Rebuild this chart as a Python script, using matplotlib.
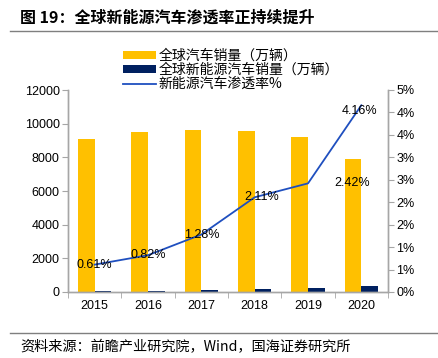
"""全球新能源汽车渗透率 chart"""

import matplotlib
matplotlib.use("Agg")
import matplotlib.pyplot as plt
from matplotlib.lines import Line2D
from matplotlib.ticker import FuncFormatter, FixedLocator
import numpy as np

years = ["2015", "2016", "2017", "2018", "2019", "2020"]
total_sales = [9068, 9490, 9624, 9582, 9190, 7883]
nev_sales = [55, 78, 123, 202, 222, 328]
penetration = [0.61, 0.82, 1.28, 2.11, 2.42, 4.16]
pen_labels = ["0.61%", "0.82%", "1.28%", "2.11%", "2.42%", "4.16%"]
label_offsets = [(0, 0), (0, 0), (0, 0), (5, 0), (32, 0), (-1, -4)]

CJK = ["Noto Sans CJK SC", "DejaVu Sans"]
LAT = ["Liberation Sans", "DejaVu Sans"]
YELLOW = "#FFC000"
NAVY = "#002060"
BLUE = "#1F4FBF"
GREY = "#A6A6A6"

plt.rcParams["font.family"] = LAT

fig = plt.figure(figsize=(4.39, 3.58), dpi=100)
ax = fig.add_axes([68 / 439, 1 - 292 / 358, 320 / 439, 202 / 358])
ax2 = ax.twinx()

x = np.arange(len(years))
w = 0.31
b1 = ax.bar(x - w / 2, total_sales, width=w, color=YELLOW, label="全球汽车销量（万辆）")
b2 = ax.bar(x + w / 2, nev_sales, width=w, color=NAVY, label="全球新能源汽车销量（万辆）")

ax.set_xlim(-0.5, len(years) - 0.5)
ax.set_ylim(0, 12000)
ax.set_yticks(range(0, 12001, 2000))
ax.set_xticks(x)
ax.set_xticklabels(years)
ax.xaxis.set_minor_locator(FixedLocator(np.arange(-0.5, len(years), 1)))
ax.tick_params(axis="x", which="major", length=0, labelsize=9, pad=6)
ax.tick_params(axis="x", which="minor", length=4, color=GREY, direction="out")
ax.tick_params(axis="y", labelsize=9, length=4, color=GREY, pad=2)

ax2.set_ylim(0, 4.5)
ax2.set_yticks(np.arange(0, 4.51, 0.5))
ax2.yaxis.set_major_formatter(FuncFormatter(lambda v, p: f"{int(np.floor(v + 0.5 + 1e-9))}%"))
ax2.tick_params(axis="y", labelsize=9, length=4, color=GREY, pad=2)

for a in (ax, ax2):
    a.spines["top"].set_visible(False)
    for s in ("left", "right", "bottom"):
        a.spines[s].set_color(GREY)
        a.spines[s].set_linewidth(1.0)

ln, = ax2.plot(x, penetration, color=BLUE, lw=1.3, label="新能源汽车渗透率%")
for xi, yi, t, (dx, dy) in zip(x, penetration, pen_labels, label_offsets):
    ax2.annotate(t, (xi, yi), xytext=(dx, dy), textcoords="offset points",
                 ha="center", va="center", fontsize=9, color="black")

ax2.set_zorder(ax.get_zorder() + 1)
ax2.patch.set_visible(False)

fig.legend(handles=[b1, b2, ln], loc="upper left", bbox_to_anchor=(116 / 439, 1 - 42 / 358),
           frameon=False, prop={"family": CJK, "size": 10}, handlelength=2.4,
           handleheight=0.45, handletextpad=0.15, labelspacing=0.0, borderpad=0)

fig.text(20 / 439, 1 - 18 / 358, "图 19：全球新能源汽车渗透率正持续提升", family=CJK,
         fontsize=11.5, fontweight="bold", va="center", ha="left")
fig.add_artist(Line2D([10 / 439, 1], [1 - 31 / 358] * 2, color="#7F7F7F", lw=1.0))
fig.add_artist(Line2D([10 / 439, 1], [1 - 333 / 358] * 2, color="#7F7F7F", lw=1.0))
fig.text(20 / 439, 1 - 347 / 358, "资料来源：前瞻产业研究院，Wind，国海证券研究所", family=CJK,
         fontsize=10.2, va="center", ha="left")

fig.savefig("out.png", dpi=100)
